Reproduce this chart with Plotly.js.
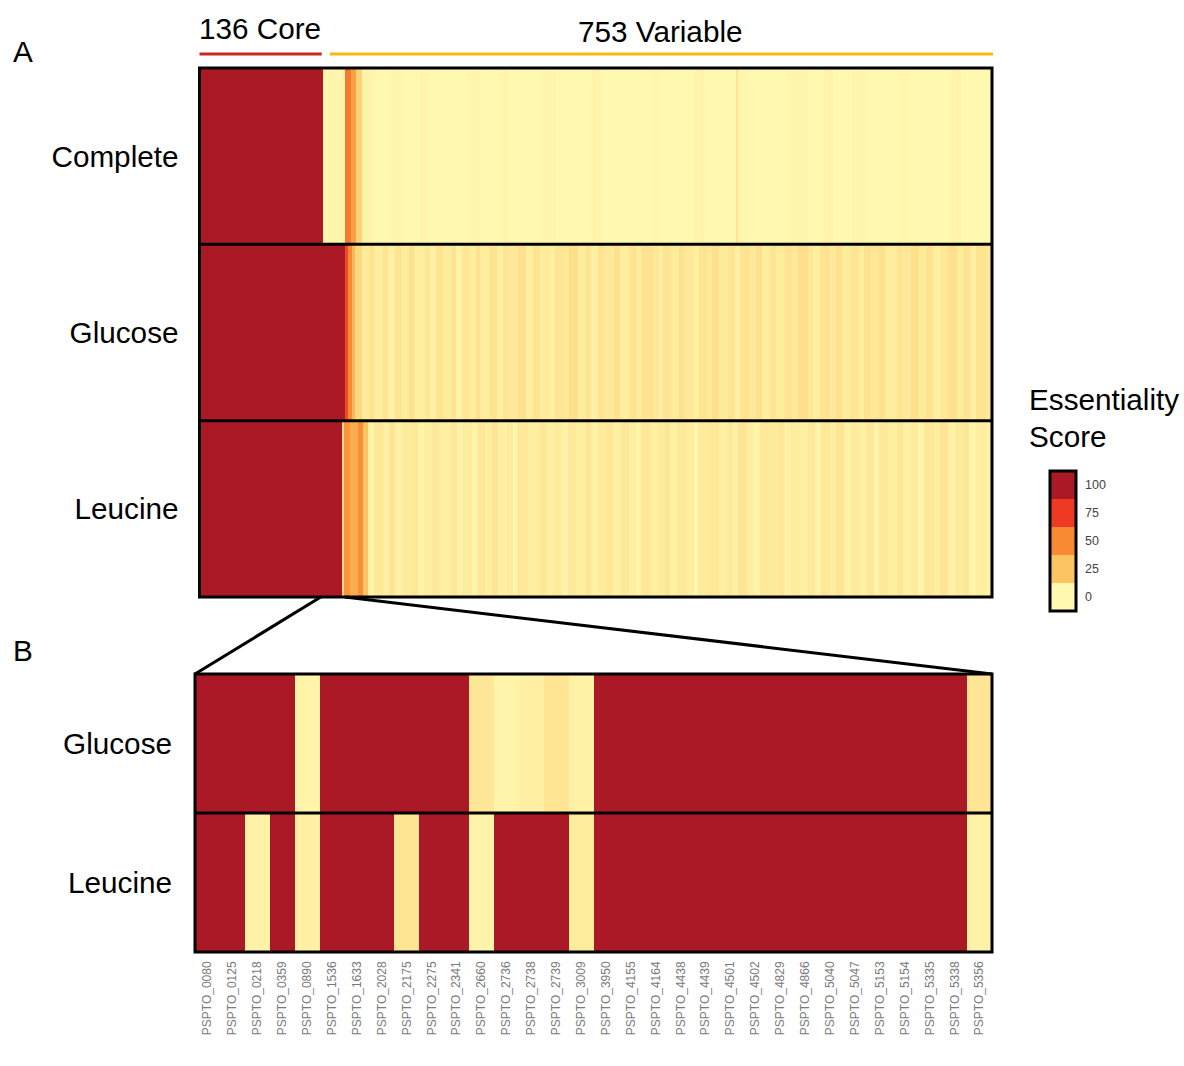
<!DOCTYPE html>
<html>
<head>
<meta charset="utf-8">
<script src="https://cdn.plot.ly/plotly-3.0.1.min.js"></script>
<style>
  html, body { margin: 0; padding: 0; background: #ffffff; }
  #chart { width: 1184px; height: 1066px; }
</style>
</head>
<body>
<div id="chart"></div>
<script>
// ---------------- DATA ----------------
// Panel A: 889 genes (136 core + 753 variable), three media. Values given as runs [score, number of genes].
const rowNames = ['Complete', 'Glucose', 'Leucine'];
const coreCount = 136;
const variableCount = 753;
const zoomedCount = 163; // genes covered by the zoom lines into panel B (from left edge)

const completeLead = [[100, 139], [1, 24], [55, 7], [40, 6], [18, 6]];
const glucoseLead  = [[100, 163], [70, 4], [50, 4], [30, 3], [15, 8]];
const leucineLead  = [[100, 160], [15, 2], [45, 7], [35, 9], [48, 5], [25, 6]];

const completeRest = [
  [2,12],[0,20],[1,15],[0,18],[1,10],[0,25],
  [0,20],[1,14],[0,22],[2,8],[0,16],[0,20],
  [1,18],[0,15],[0,25],[2,10],[0,12],[0,20],
  [0,22],[1,16],[0,20],[0,14],[2,12],[0,16],
  [0,20],[10,2],[1,10],[0,20],[0,24],[1,24],
  [0,18],[2,10],[0,22],[1,16],[0,20],[0,14],
  [1,16],[0,20],[0,24],[2,12],[0,14],[0,14],
  [0,7]
];
const glucoseRest = [
  [6,8],[10,6],[5,10],[9,5],[4,8],[10,7],[6,9],[11,6],[5,12],[8,5],[4,7],[10,8],[6,9],
  [9,6],[3,6],[8,9],[5,7],[11,5],[6,11],[10,8],[4,6],[9,7],[7,10],[11,9],[5,8],[10,8],
  [6,12],[4,5],[9,8],[7,7],[12,10],[6,9],[9,6],[4,8],[10,7],[7,11],[11,6],[5,11],
  [9,8],[6,6],[10,12],[7,7],[4,5],[9,9],[6,8],[11,6],[8,10],[5,7],[10,9],[7,6],[12,7],
  [6,11],[9,7],[4,6],[10,10],[7,8],[11,7],[5,9],[9,6],[6,10],[10,8],[7,7],[12,11],
  [8,6],[5,8],[10,11],[7,7],[11,6],[6,9],[9,10],[5,6],[10,8],[8,9],[11,7],[6,13],
  [9,6],[7,10],[12,9],[6,7],[10,8],[5,9],[8,8],[11,10],[6,7],[9,9],[4,6],[10,11],
  [7,4],[10,3]
];
const leucineRest = [
  [5,2],[2,5],[7,10],[4,7],[9,6],[3,8],[6,12],[8,6],[2,7],[5,9],[7,8],[4,13],
  [8,7],[3,6],[6,11],[2,5],[7,9],[5,8],[9,7],[4,10],[6,6],[1,5],[7,12],[5,14],
  [8,8],[4,6],[6,10],[2,7],[7,9],[5,11],[9,6],[3,8],[6,9],[8,7],[4,10],[7,9],
  [5,7],[2,6],[8,10],[4,8],[6,9],[9,6],[3,7],[7,11],[5,8],[1,5],[6,12],[8,11],
  [4,9],[7,7],[3,6],[9,10],[5,8],[2,6],[7,11],[6,9],[8,7],[3,8],[6,10],[4,9],
  [7,8],[2,7],[8,10],[5,6],[9,9],[3,8],[6,11],[4,7],[8,8],[2,6],[7,10],[5,10],
  [8,7],[4,9],[6,8],[1,6],[7,11],[5,7],[9,9],[3,8],[6,10],[8,6],[2,8],[5,11],
  [4,4],[7,3]
];

// Panel B: 32 genes, glucose and leucine
const bRowNames = ['Glucose', 'Leucine'];
const bGenes = ['PSPTO_0080','PSPTO_0125','PSPTO_0218','PSPTO_0359','PSPTO_0890','PSPTO_1536',
  'PSPTO_1633','PSPTO_2028','PSPTO_2175','PSPTO_2275','PSPTO_2341','PSPTO_2660','PSPTO_2736',
  'PSPTO_2738','PSPTO_2739','PSPTO_3009','PSPTO_3950','PSPTO_4155','PSPTO_4164','PSPTO_4438',
  'PSPTO_4439','PSPTO_4501','PSPTO_4502','PSPTO_4829','PSPTO_4866','PSPTO_5040','PSPTO_5047',
  'PSPTO_5153','PSPTO_5154','PSPTO_5335','PSPTO_5338','PSPTO_5356'];
const bGlucose = [100,100,100,100,2,100,100,100,100,100,100,8,2,4,9,3,
  100,100,100,100,100,100,100,100,100,100,100,100,100,100,100,9];
const bLeucine = [100,100,3,100,4,100,100,100,9,100,100,2,100,100,100,6,
  100,100,100,100,100,100,100,100,100,100,100,100,100,100,100,3];

// Legend
const legendValues = [0, 25, 50, 75, 100];
const legendLabels = ['0', '25', '50', '75', '100'];

// ---------------- BUILD ----------------
const expand = runs => runs.flatMap(([v, n]) => Array(n).fill(v));
const zComplete = expand(completeLead).concat(expand(completeRest));
const zGlucose  = expand(glucoseLead).concat(expand(glucoseRest));
const zLeucine  = expand(leucineLead).concat(expand(leucineRest));
const nGenes = coreCount + variableCount;
const geneIdx = Array.from({length: nGenes}, (_, i) => i);

const scale = [[0, '#FFF8B0'], [0.25, '#FCC462'], [0.5, '#F78A33'], [0.75, '#EE3A24'], [1, '#AB1826']];
const FONT = 'Liberation Sans, Arial, Helvetica, sans-serif';
const BIG = 29.7;

const W = 1184, H = 1066;
const px = x => x / W;
const py = y => 1 - y / H;

// domains (pixels)
const A = {x0: 199.5, x1: 992, y0: 68, y1: 597};
const B = {x0: 195, x1: 992, y0: 674, y1: 952};
const L = {x0: 1050, x1: 1076, y0: 471, y1: 611};

const aCol = c => A.x0 + c / nGenes * (A.x1 - A.x0);

const traces = [
  {
    type: 'heatmap', x: geneIdx, y: rowNames, z: [zComplete, zGlucose, zLeucine],
    colorscale: scale, zmin: 0, zmax: 100, showscale: false, hoverinfo: 'skip',
    xaxis: 'x', yaxis: 'y'
  },
  {
    type: 'heatmap', x: bGenes, y: bRowNames, z: [bGlucose, bLeucine],
    colorscale: scale, zmin: 0, zmax: 100, showscale: false, hoverinfo: 'skip',
    xaxis: 'x2', yaxis: 'y2'
  },
  {
    type: 'heatmap', x: [0], y: legendValues, z: legendValues.map(v => [v]),
    colorscale: scale, zmin: 0, zmax: 100, showscale: false, hoverinfo: 'skip',
    xaxis: 'x3', yaxis: 'y3'
  }
];

const hidden = {showgrid: false, zeroline: false, showline: false, ticks: '', showticklabels: false, fixedrange: true};

const layout = {
  width: W, height: H,
  margin: {l: 0, r: 0, t: 0, b: 0},
  paper_bgcolor: '#ffffff', plot_bgcolor: '#ffffff',
  font: {family: FONT, color: '#000000'},
  showlegend: false,
  xaxis: Object.assign({}, hidden, {domain: [px(A.x0), px(A.x1)], range: [-0.5, nGenes - 0.5], anchor: 'y'}),
  yaxis: {domain: [py(A.y1), py(A.y0)], anchor: 'x', type: 'category', autorange: 'reversed',
    showgrid: false, zeroline: false, showline: false, ticks: '', ticklabelstandoff: 20,
    tickfont: {size: BIG, family: FONT, color: '#000000'}, fixedrange: true},
  xaxis2: {domain: [px(B.x0), px(B.x1)], anchor: 'y2', type: 'category', tickangle: -90,
    showgrid: false, zeroline: false, showline: false, ticks: '', ticklabelstandoff: 6,
    tickfont: {size: 12, family: FONT, color: '#7a7a7a'}, fixedrange: true},
  yaxis2: {domain: [py(B.y1), py(B.y0)], anchor: 'x2', type: 'category', autorange: 'reversed',
    showgrid: false, zeroline: false, showline: false, ticks: '', ticklabelstandoff: 22,
    tickfont: {size: BIG, family: FONT, color: '#000000'}, fixedrange: true},
  xaxis3: Object.assign({}, hidden, {domain: [px(L.x0), px(L.x1)], anchor: 'y3'}),
  yaxis3: {domain: [py(L.y1), py(L.y0)], anchor: 'x3', side: 'right', range: [-12.5, 112.5],
    tickvals: legendValues, ticktext: legendLabels, showgrid: false, zeroline: false, showline: false,
    ticks: '', ticklabelstandoff: 8, tickfont: {size: 12.5, family: FONT, color: '#444444'}, fixedrange: true},
  shapes: [
    // panel A frame and row separators
    {type: 'rect', xref: 'x domain', yref: 'y domain', x0: 0, x1: 1, y0: 0, y1: 1, line: {color: '#000', width: 3}},
    {type: 'line', xref: 'x domain', yref: 'y', x0: 0, x1: 1, y0: 0.5, y1: 0.5, line: {color: '#000', width: 3}},
    {type: 'line', xref: 'x domain', yref: 'y', x0: 0, x1: 1, y0: 1.5, y1: 1.5, line: {color: '#000', width: 3}},
    // panel B frame and separator
    {type: 'rect', xref: 'x2 domain', yref: 'y2 domain', x0: 0, x1: 1, y0: 0, y1: 1, line: {color: '#000', width: 3}},
    {type: 'line', xref: 'x2 domain', yref: 'y2', x0: 0, x1: 1, y0: 0.5, y1: 0.5, line: {color: '#000', width: 3}},
    // legend frame
    {type: 'rect', xref: 'x3 domain', yref: 'y3 domain', x0: 0, x1: 1, y0: 0, y1: 1, line: {color: '#000', width: 3}},
    // zoom connectors
    {type: 'line', xref: 'paper', yref: 'paper', x0: px(aCol(coreCount)), y0: py(A.y1), x1: px(B.x0), y1: py(B.y0), line: {color: '#000', width: 3}},
    {type: 'line', xref: 'paper', yref: 'paper', x0: px(aCol(zoomedCount)), y0: py(A.y1), x1: px(B.x1), y1: py(B.y0), line: {color: '#000', width: 3}},
    // core / variable brackets
    {type: 'line', xref: 'paper', yref: 'paper', x0: px(A.x0), y0: py(54), x1: px(aCol(coreCount) + 1), y1: py(54), line: {color: '#C4281F', width: 3}},
    {type: 'line', xref: 'paper', yref: 'paper', x0: px(aCol(coreCount) + 9), y0: py(54), x1: px(A.x1 + 1), y1: py(54), line: {color: '#FCB814', width: 3}}
  ],
  annotations: [
    {xref: 'paper', yref: 'paper', x: px(11), y: py(51), xanchor: 'left', yanchor: 'middle', text: 'A', showarrow: false, font: {size: BIG, family: FONT, color: '#000'}},
    {xref: 'paper', yref: 'paper', x: px(11), y: py(650), xanchor: 'left', yanchor: 'middle', text: 'B', showarrow: false, font: {size: BIG, family: FONT, color: '#000'}},
    {xref: 'paper', yref: 'paper', x: px((A.x0 + aCol(coreCount)) / 2), y: py(29), xanchor: 'center', yanchor: 'middle', text: coreCount + ' Core', showarrow: false, font: {size: BIG, family: FONT, color: '#000'}},
    {xref: 'paper', yref: 'paper', x: px((aCol(coreCount) + 9 + A.x1) / 2), y: py(31), xanchor: 'center', yanchor: 'middle', text: variableCount + ' Variable', showarrow: false, font: {size: BIG, family: FONT, color: '#000'}},
    {xref: 'paper', yref: 'paper', x: px(1027), y: py(400), xanchor: 'left', yanchor: 'middle', text: 'Essentiality', showarrow: false, font: {size: BIG, family: FONT, color: '#000'}},
    {xref: 'paper', yref: 'paper', x: px(1027), y: py(436), xanchor: 'left', yanchor: 'middle', text: 'Score', showarrow: false, font: {size: BIG, family: FONT, color: '#000'}}
  ]
};

Plotly.newPlot('chart', traces, layout, {displayModeBar: false, staticPlot: true});
</script>
</body>
</html>
